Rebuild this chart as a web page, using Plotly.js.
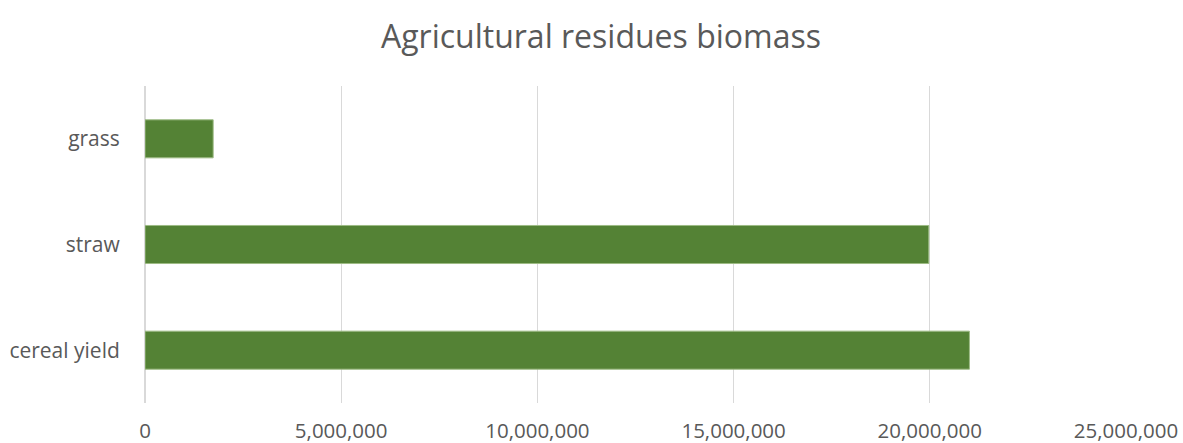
<!DOCTYPE html>
<html><head><meta charset="utf-8">
<script src="https://cdn.plot.ly/plotly-3.0.1.min.js"></script>
<style>html,body{margin:0;padding:0;background:#fff}#chart{width:1183px;height:443px}</style>
</head><body><div id="chart"></div>
<script>
const categories = ["cereal yield", "straw", "grass"];
const values = [21010000, 19975000, 1737000];
const tickVals = [0, 5000000, 10000000, 15000000, 20000000, 25000000];
const tickText = ["0", "5,000,000", "10,000,000", "15,000,000", "20,000,000", "25,000,000"];

const font = "Open Sans, Noto Sans, sans-serif";
Plotly.newPlot("chart", [{
  type: "bar", orientation: "h",
  y: categories, x: values,
  marker: {color: "#548235", line: {color: "#9dbb85", width: 1}},
  hoverinfo: "x+y"
}], {
  width: 1183, height: 443,
  margin: {l: 144.5, r: 57, t: 86, b: 40},
  paper_bgcolor: "#fff", plot_bgcolor: "#fff",
  bargap: 0.64,
  title: {text: "Agricultural residues biomass", x: 0.508, xanchor: "center", y: 0.918, yanchor: "middle",
    font: {family: font, size: 32, color: "#595959"}},
  xaxis: {range: [0, 25000000], tickvals: tickVals, ticktext: tickText,
    showgrid: true, gridcolor: "#d9d9d9", gridwidth: 1.3,
    zeroline: true, zerolinecolor: "#d9d9d9", zerolinewidth: 1.3,
    showline: false, ticks: "outside", ticklen: 9, tickcolor: "rgba(0,0,0,0)",
    tickfont: {family: font, size: 20.5, color: "#595959"}, fixedrange: true},
  yaxis: {showgrid: false, zeroline: false, showline: false,
    ticks: "outside", ticklen: 20, tickcolor: "rgba(0,0,0,0)",
    tickfont: {family: font, size: 21, color: "#595959"}},
  showlegend: false
}, {displayModeBar: false, staticPlot: true});
</script></body></html>
